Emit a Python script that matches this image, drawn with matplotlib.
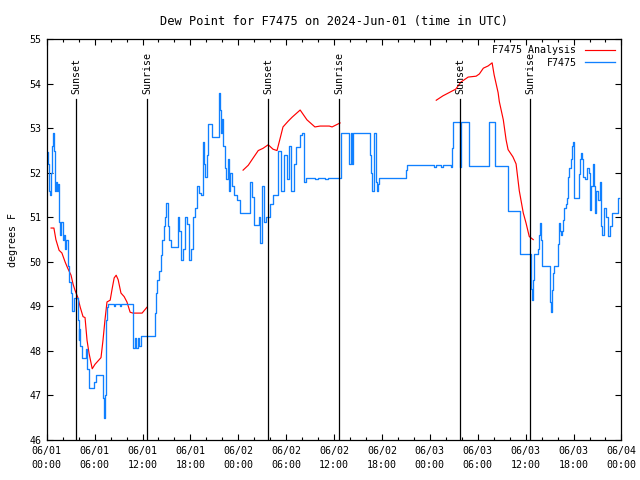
import numpy as np
import matplotlib
matplotlib.use("Agg")
import matplotlib.pyplot as plt
from matplotlib.ticker import MultipleLocator

# hours since 2024-06-01 00:00 UTC
obs_hours = [0.0, 0.1, 0.25, 0.4, 0.55, 0.65, 0.8, 0.9, 1.05, 1.15, 1.3, 1.4, 1.55, 1.65, 1.8,
             2.05, 2.15, 2.3, 2.4, 2.65, 2.8, 3.05, 3.15, 3.4, 3.65, 3.9, 4.0, 4.1, 4.2, 4.4,
             4.9, 5.05, 5.3, 5.9, 6.2, 7.05, 7.2, 7.3, 7.45, 7.55, 7.7, 8.45, 8.55, 9.2, 9.3,
             10.8, 11.05, 11.2, 11.45, 11.55, 11.8, 13.6, 13.7, 13.85, 14.1, 14.3, 14.45, 14.7,
             14.8, 14.95, 15.2, 15.3, 15.6, 16.45, 16.6, 16.85, 17.1, 17.35, 17.6, 17.85, 18.1,
             18.35, 18.6, 18.85, 19.1, 19.35, 19.6, 19.7, 19.85, 20.1, 20.2, 20.7, 21.6, 21.7,
             21.85, 21.95, 22.1, 22.35, 22.45, 22.7, 22.85, 22.95, 23.2, 23.45, 23.85, 24.2,
             25.5, 25.75, 26.0, 26.6, 26.7, 26.95, 27.25, 27.5, 27.95, 28.35, 28.95, 29.35,
             29.75, 30.1, 30.35, 30.6, 30.95, 31.2, 31.75, 32.0, 32.25, 32.5, 33.6, 34.0, 34.9,
             35.3, 36.85, 37.9, 38.15, 38.25, 38.4, 40.5, 40.65, 40.75, 41.0, 41.3, 41.4, 41.55,
             41.65, 45.05, 45.15, 48.55, 48.8, 49.4, 49.65, 50.65, 50.8, 50.9, 51.8, 51.95, 52.9,
             55.4, 56.2, 57.8, 59.3, 60.7, 60.8, 60.95, 61.05, 61.55, 61.7, 61.8, 61.9, 62.05,
             63.05, 63.2, 63.3, 63.4, 63.55, 64.05, 64.15, 64.3, 64.4, 64.55, 64.7, 64.8, 65.05,
             65.2, 65.3, 65.45, 65.7, 65.85, 65.95, 66.1, 66.7, 66.8, 66.95, 67.05, 67.2, 67.45,
             67.7, 67.95, 68.1, 68.2, 68.45, 68.6, 68.7, 68.8, 69.1, 69.35, 69.45, 69.6, 69.85,
             70.1, 70.35, 70.6, 70.85, 71.5, 71.6, 71.75]
obs_dewpt = [52.47, 52.2, 51.6, 51.5, 52.0, 52.6, 52.9, 52.5, 51.6, 51.8, 51.6, 51.75, 50.9, 50.6, 50.9,
             50.5, 50.6, 50.3, 50.5, 49.9, 49.55, 49.3, 48.9, 49.2, 49.2, 48.7, 48.24, 48.5, 48.1, 47.84,
             48.05, 47.6, 47.17, 47.3, 47.45, 46.95, 46.5, 47.0, 48.7, 48.98, 49.05, 49.0, 49.05, 49.0, 49.05,
             48.06, 48.3, 48.06, 48.3, 48.1, 48.33, 48.85, 49.3, 49.6, 49.8, 50.15, 50.5, 50.8,
             51.0, 51.32, 50.8, 50.5, 50.33, 51.0, 50.7, 50.05, 50.3, 51.0, 50.85, 50.05, 50.3,
             51.0, 51.2, 51.7, 51.55, 51.5, 52.7, 52.2, 51.9, 52.4, 53.1, 52.8, 53.8, 53.4,
             52.9, 53.2, 52.6, 52.1, 51.85, 52.3, 51.6, 52.0, 51.7, 51.5, 51.4, 51.1,
             51.8, 51.45, 50.82, 51.0, 50.42, 51.7, 50.9, 51.0, 51.3, 51.5, 52.5, 51.6,
             52.4, 51.85, 52.6, 51.6, 52.2, 52.58, 52.85, 52.9, 51.8, 51.88, 51.85, 51.88, 51.85,
             51.88, 52.9, 52.2, 52.9, 52.2, 52.9, 52.4, 52.0, 51.6, 52.9, 51.8, 51.6, 51.75,
             51.88, 52.06, 52.17, 52.12, 52.17, 52.12, 52.17, 52.12, 52.55, 53.14, 52.13, 53.14, 52.15,
             53.14, 52.15, 51.14, 50.17, 49.4, 49.14, 49.6, 50.17, 50.3, 50.6, 50.87, 50.5, 49.9,
             49.1, 48.87, 49.36, 49.74, 49.9, 50.4, 50.87, 50.7, 50.6, 50.7, 50.93, 51.2, 51.3,
             51.43, 51.9, 52.1, 52.3, 52.6, 52.7, 51.43, 51.97, 52.3, 52.45, 52.3, 51.9, 51.85,
             52.1, 52.0, 51.16, 51.7, 52.2, 51.7, 51.1, 51.6, 51.4, 51.8, 50.8, 50.6, 51.2,
             51.0, 50.57, 50.8, 51.1, 51.1, 51.43, 51.43]

# analysis, gaps as nan
ana_hours = [0.55, 0.9, 1.15, 1.55, 1.9, 2.3, 2.65, 3.05, 3.3, 3.55, 3.9, 4.2, 4.55, 4.8, 5.05,
             5.3, 5.7, 6.05, 6.55, 6.8, 7.05, 7.3, 7.55, 7.95, 8.2, 8.45, 8.7, 8.95, 9.3, 9.7,
             10.05, 10.45, 10.8, 11.95, 12.55, 13.0,
             24.6, 25.25, 25.85, 26.5, 27.1, 27.75, 28.35, 28.85, 29.25, 29.6, 30.25, 30.75,
             31.75, 32.6, 33.6, 34.25, 35.4, 35.75, 36.75, 37.0,
             48.8, 49.65, 50.4, 51.25, 51.9, 52.8, 53.8, 54.2, 54.7, 55.3, 55.8, 56.05, 56.55,
             56.7, 57.2, 57.55, 57.8, 58.4, 58.8, 59.2, 59.7, 60.05, 60.45, 60.95]
ana_dewpt = [50.76, 50.76, 50.5, 50.26, 50.2, 50.0, 49.85, 49.7, 49.5, 49.36, 49.2, 48.98, 48.77, 48.75, 48.24,
             47.95, 47.6, 47.7, 47.8, 47.85, 48.24, 48.7, 49.1, 49.14, 49.4, 49.64, 49.7, 49.6, 49.3, 49.22,
             49.1, 48.87, 48.85, 48.85, 48.98, np.nan,
             52.06, 52.17, 52.33, 52.5, 52.55, 52.63, 52.53, 52.5, 52.78, 53.03, 53.16, 53.25,
             53.41, 53.19, 53.03, 53.05, 53.05, 53.03, 53.12, np.nan,
             53.63, 53.73, 53.8, 53.88, 54.04, 54.15, 54.17, 54.22, 54.35, 54.4, 54.47, 54.2, 53.8,
             53.6, 53.19, 52.74, 52.52, 52.36, 52.2, 51.6, 51.1, 50.87, 50.57, 50.5]

sun_hours = [3.67, 12.6, 27.77, 36.67, 51.83, 60.6]
sun_labels = ["Sunset", "Sunrise", "Sunset", "Sunrise", "Sunset", "Sunrise"]

tick_hours = list(range(0, 73, 6))
tick_labels = ["06/01\n00:00", "06/01\n06:00", "06/01\n12:00", "06/01\n18:00",
               "06/02\n00:00", "06/02\n06:00", "06/02\n12:00", "06/02\n18:00",
               "06/03\n00:00", "06/03\n06:00", "06/03\n12:00", "06/03\n18:00",
               "06/04\n00:00"]

plt.rcParams['font.family'] = 'DejaVu Sans Mono'
plt.rcParams['font.size'] = 7.2

fig = plt.figure(figsize=(6.4, 4.8), dpi=100)
ax = fig.add_axes([0.073, 0.0833, 0.898, 0.835])

ax.plot(ana_hours, ana_dewpt, color='#ff0000', lw=0.85, label='F7475 Analysis')
ax.plot(obs_hours, obs_dewpt, color='#1080ff', lw=0.95, drawstyle='steps-post', label='F7475')

for h, lab in zip(sun_hours, sun_labels):
    ax.plot([h, h], [46, 53.66], color='black', lw=0.9)
    ax.text(h, 53.78, lab, rotation=90, ha='center', va='bottom')

ax.set_xlim(0, 72)
ax.set_ylim(46, 55)
ax.set_xticks(tick_hours)
ax.set_xticklabels(tick_labels, linespacing=1.6)
ax.xaxis.set_minor_locator(MultipleLocator(2))
ax.yaxis.set_major_locator(MultipleLocator(1))
ax.tick_params(which='both', direction='in', top=True, right=True, width=0.8)
ax.tick_params(which='major', length=4.5, pad=4)
ax.tick_params(which='minor', length=2.5)
for s in ax.spines.values():
    s.set_linewidth(0.9)

ax.set_title('Dew Point for F7475 on 2024-Jun-01 (time in UTC)', pad=10)
ax.set_ylabel('degrees F', labelpad=8)

ax.legend(loc='upper right', frameon=False, markerfirst=False, handlelength=3.0,
          borderaxespad=0.2, labelspacing=0.25, handletextpad=0.9)

fig.savefig('out.png', dpi=100)
